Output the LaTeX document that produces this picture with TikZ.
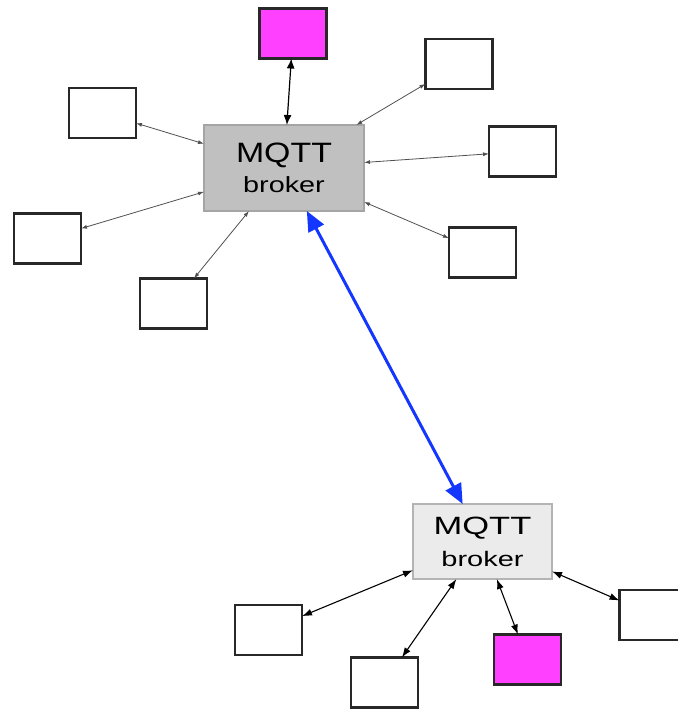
\documentclass[tikz,border=0pt]{standalone}
\usepackage{fontspec}
\setmainfont{Liberation Sans}
\usetikzlibrary{arrows.meta}
\definecolor{magentabox}{RGB}{255,64,255}
\definecolor{boxline}{RGB}{40,40,40}
\definecolor{brokerdark}{RGB}{192,192,192}
\definecolor{brokerdarkline}{RGB}{165,165,165}
\definecolor{brokerlight}{RGB}{235,235,235}
\definecolor{brokerlightline}{RGB}{180,180,180}
\definecolor{linkblue}{RGB}{20,55,255}
\definecolor{thingray}{RGB}{80,80,80}
\tikzset{
  client/.style={draw=boxline, line width=2.2bp, fill=white, minimum width=67bp, minimum height=50bp, inner sep=0pt, outer sep=0pt},
  special/.style={client, fill=magentabox},
  brokerA/.style={draw=brokerdarkline, line width=1.5bp, fill=brokerdark, minimum width=160bp, minimum height=86bp, inner sep=0pt, outer sep=0pt, align=center, font=\fontsize{22bp}{30bp}\selectfont},
  brokerB/.style={draw=brokerlightline, line width=1.5bp, fill=brokerlight, minimum width=139bp, minimum height=75bp, inner sep=0pt, outer sep=0pt, align=center, font=\fontsize{21bp}{32bp}\selectfont},
  thinlink/.style={draw=thingray, line width=0.8bp, {Latex[length=6bp,width=4bp]}-{Latex[length=6bp,width=4bp]}},
  boldlink/.style={draw=black, line width=1.2bp, {Latex[length=10bp,width=8bp]}-{Latex[length=10bp,width=8bp]}},
  lowlink/.style={draw=black, line width=1.1bp, {Latex[length=10bp,width=7bp]}-{Latex[length=10bp,width=7bp]}},
  bluelink/.style={draw=linkblue, line width=3bp, {Triangle[length=20bp,width=17bp]}-{Triangle[length=20bp,width=17bp]}}
}
\begin{document}
\begin{tikzpicture}[x=1bp,y=-1bp]
\useasboundingbox (0,0) rectangle (678,709);
% top broker and its clients
\node[brokerA] (tb) at (284,168) {{\fontsize{28bp}{30bp}\selectfont\scalebox{1.21}[1]{MQTT}}\\\scalebox{1.31}[1]{broker}};
\node[special] (mt) at (293,33.5) {};
\node[client] (l1) at (102.5,113) {};
\node[client] (l2) at (47.5,238.5) {};
\node[client] (l3) at (173.5,303.5) {};
\node[client] (r1) at (459,64) {};
\node[client] (r2) at (522.5,151.5) {};
\node[client] (r3) at (482.5,252.5) {};
% bottom broker and its clients
\node[brokerB] (bb) at (482.5,541.5) {{\fontsize{25bp}{32bp}\selectfont\scalebox{1.38}[1]{MQTT}}\\\scalebox{1.38}[1]{broker}};
\node[client] (bl) at (268.5,630) {};
\node[client] (bm) at (384.5,682.5) {};
\node[special] (mb) at (527.5,659.5) {};
\node[client] (br) at (653,615) {};
% connectors
\draw[boldlink] (mt) -- (tb);
\draw[thinlink] (l1) -- (tb);
\draw[thinlink] (l2) -- (tb);
\draw[thinlink] (l3) -- (tb);
\draw[thinlink] (r1) -- (tb);
\draw[thinlink] (r2) -- (tb);
\draw[thinlink] (r3) -- (tb);
\draw[bluelink] (tb) -- (bb);
\draw[lowlink] (bl) -- (bb);
\draw[lowlink] (bm) -- (bb);
\draw[lowlink] (mb) -- (bb);
\draw[lowlink] (br) -- (bb);
\end{tikzpicture}
\end{document}
